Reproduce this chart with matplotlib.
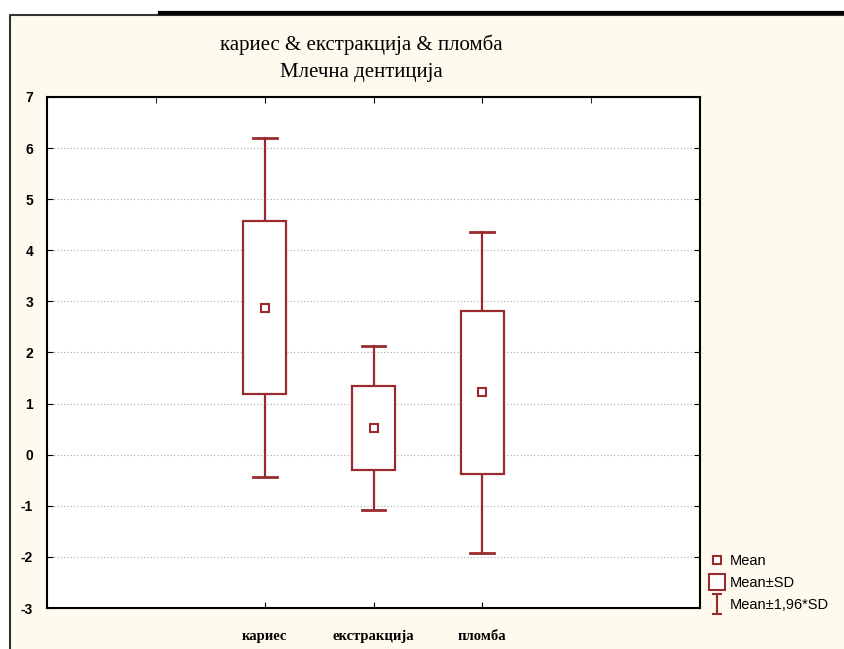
import numpy as np
import matplotlib.pyplot as plt
from matplotlib.lines import Line2D
from matplotlib.patches import Rectangle
from matplotlib.path import Path

plt.rcParams['axes.unicode_minus'] = False

# data
categories = ['кариес', 'екстракција', 'пломба']
means = [2.88, 0.52, 1.22]
sds = [1.69, 0.82, 1.60]
positions = [2, 3, 4]

col = '#9b2a2e'
cream = '#fffaee'

fig = plt.figure(figsize=(8.44, 6.49), dpi=100)
fig.patch.set_facecolor('white')
# cream panel with black left/top edge
fig.patches.append(Rectangle((10 / 844, 0), 1, 1 - 15 / 649, transform=fig.transFigure,
                             facecolor=cream, edgecolor='none', zorder=-5))
fig.add_artist(Line2D([10 / 844, 10 / 844, 1], [0, 1 - 15 / 649, 1 - 15 / 649],
                      transform=fig.transFigure, color='#333333', lw=1.5))
fig.add_artist(Line2D([160 / 844, 1], [1 - 13 / 649, 1 - 13 / 649],
                      transform=fig.transFigure, color='black', lw=3))

ax = fig.add_axes([47 / 844, 1 - 608 / 649, 653 / 844, 511 / 649])
ax.set_facecolor('white')

m = np.array(means)
s = np.array(sds)
box_w = 0.4
cap_w = 0.22
for x, mu, sd in zip(positions, m, s):
    lo, hi = mu - 1.96 * sd, mu + 1.96 * sd
    ax.plot([x, x], [lo, mu - sd], color=col, lw=1.6, zorder=3)
    ax.plot([x, x], [mu + sd, hi], color=col, lw=1.6, zorder=3)
    ax.plot([x - cap_w / 2, x + cap_w / 2], [lo, lo], color=col, lw=2, zorder=3)
    ax.plot([x - cap_w / 2, x + cap_w / 2], [hi, hi], color=col, lw=2, zorder=3)
    ax.add_patch(Rectangle((x - box_w / 2, mu - sd), box_w, 2 * sd,
                           facecolor='white', edgecolor=col, lw=1.6, zorder=3))
ax.plot(positions, m, ls='none', marker='s', ms=6, mfc='white', mec=col, mew=1.5, zorder=4)

ax.set_xlim(0, 6)
ax.set_ylim(-3, 7)
ax.set_yticks(range(-3, 8))
ax.set_xticks(positions)
ax.set_xticklabels(categories, family='Liberation Serif', fontsize=10.5, fontweight='bold')
ax.set_xticks([1, 5], minor=True)
ax.tick_params(which='minor', bottom=False, top=True, direction='in', length=4)
ax.tick_params(axis='x', direction='in', top=True, length=4, pad=16)
ax.tick_params(axis='y', direction='in', right=True, length=4, pad=10, labelsize=10)
for lab in ax.get_yticklabels():
    lab.set_family('Liberation Sans')
    lab.set_fontweight('bold')
ax.yaxis.grid(True, ls=(0, (1, 2)), color='#aaaaaa', lw=0.8)
ax.set_axisbelow(True)
for sp in ax.spines.values():
    sp.set_linewidth(1.5)

fig.text(361 / 844, 1 - 45 / 649, 'кариес & екстракција & пломба', ha='center', va='center',
         family='Liberation Serif', fontsize=15)
fig.text(361 / 844, 1 - 72 / 649, 'Млечна дентиција', ha='center', va='center',
         family='Liberation Serif', fontsize=15)

ibar = Path([(-0.5, -1), (0.5, -1), (0, -1), (0, 1), (-0.5, 1), (0.5, 1)],
            [Path.MOVETO, Path.LINETO, Path.MOVETO, Path.LINETO, Path.MOVETO, Path.LINETO])
handles = [
    Line2D([], [], ls='none', marker='s', ms=6, mfc='white', mec=col, mew=1.5),
    Line2D([], [], ls='none', marker='s', ms=12, mfc='white', mec=col, mew=1.5),
    Line2D([], [], ls='none', marker=ibar, ms=15, mec=col, mew=1.5),
]
fig.legend(handles, ['Mean', 'Mean±SD', 'Mean±1,96*SD'], loc='upper left',
           bbox_to_anchor=(701 / 844, 1 - 547 / 649), frameon=False,
           prop={'family': 'Liberation Sans', 'size': 10.5}, handlelength=1.2,
           handletextpad=0.25, labelspacing=0.55, borderpad=0)

fig.savefig('out.png', dpi=100, facecolor=fig.get_facecolor())
